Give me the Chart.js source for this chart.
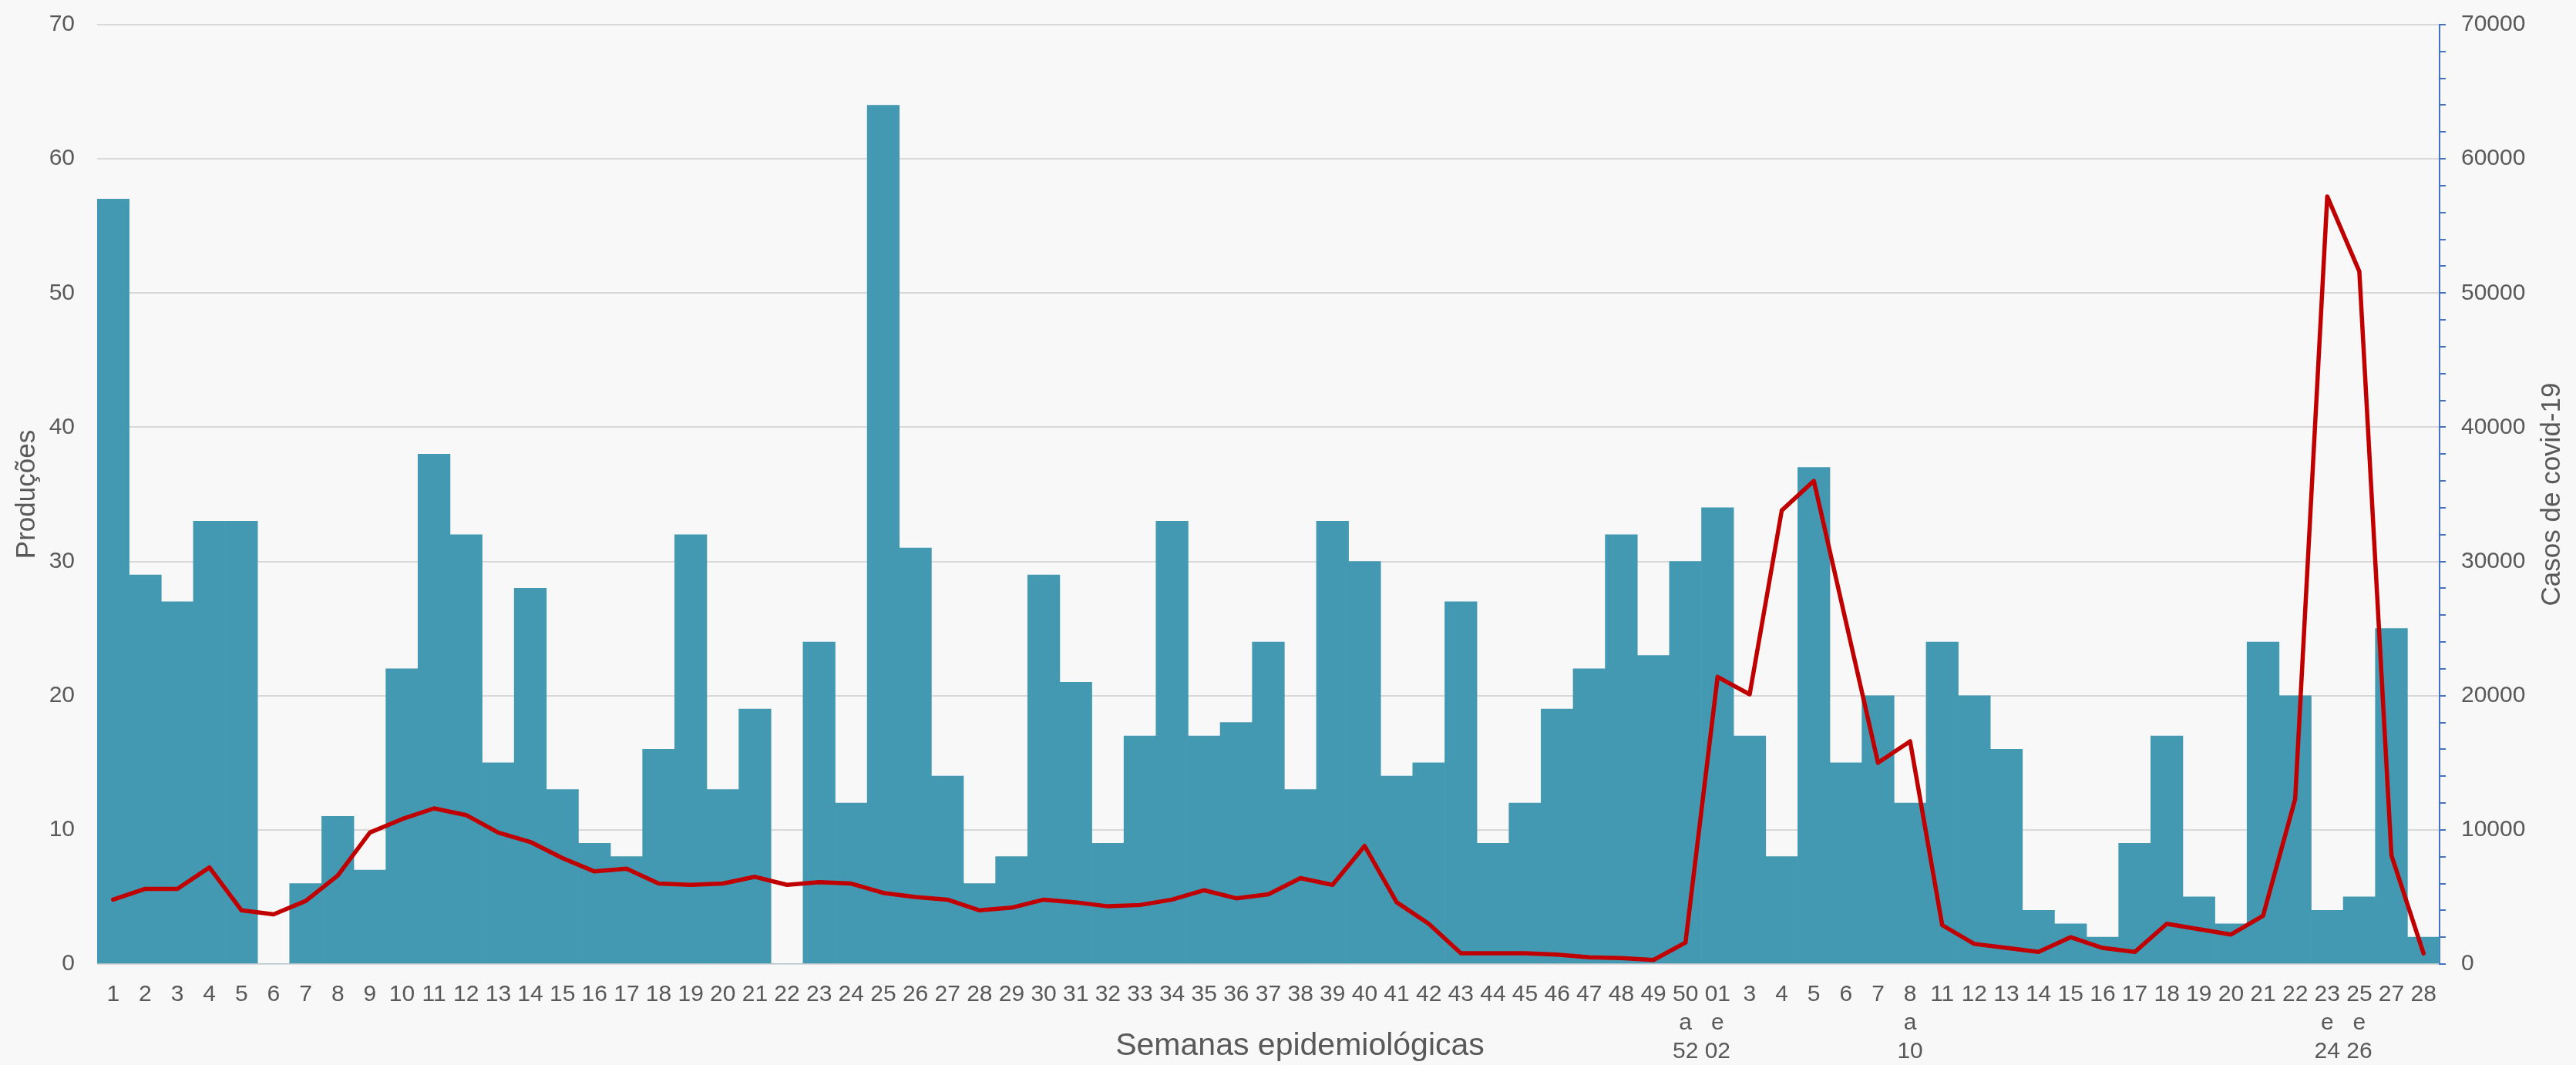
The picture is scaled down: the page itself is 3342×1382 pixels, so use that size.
<!DOCTYPE html>
<html>
<head>
<meta charset="utf-8">
<script src="https://cdn.jsdelivr.net/npm/chart.js@4.4.0/dist/chart.umd.min.js"></script>
<style>
  html, body { margin: 0; padding: 0; background: #F8F8F8; }
  #wrap { width: 3342px; height: 1382px; }
</style>
</head>
<body>
<div id="wrap"><canvas id="c" width="3342" height="1382"></canvas></div>
<script>
const semanas = [
  "1","2","3","4","5","6","7","8","9","10",
  "11","12","13","14","15","16","17","18","19","20",
  "21","22","23","24","25","26","27","28","29","30",
  "31","32","33","34","35","36","37","38","39","40",
  "41","42","43","44","45","46","47","48","49",["50","a","52"],
  ["01","e","02"],"3","4","5","6","7",["8","a","10"],"11","12","13",
  "14","15","16","17","18","19","20","21","22",["23","e","24"],
  ["25","e","26"],"27","28"
];
const producoes = [
  57,29,27,33,33,0,6,11,7,22,
  38,32,15,28,13,9,8,16,32,13,
  19,0,24,12,64,31,14,6,8,29,
  21,9,17,33,17,18,24,13,33,30,
  14,15,27,9,12,19,22,32,23,30,
  34,17,8,37,15,20,12,24,20,16,
  4,3,2,9,17,5,3,24,20,4,
  5,25,2
];
const casos = [
  4800,5600,5600,7200,4000,3700,4700,6600,9800,10800,
  11600,11100,9800,9100,7900,6900,7100,6000,5900,6000,
  6500,5900,6100,6000,5300,5000,4800,4000,4200,4800,
  4600,4300,4400,4800,5500,4900,5200,6400,5900,8800,
  4600,3000,800,800,800,700,500,450,300,1600,
  21400,20100,33800,36000,25500,15000,16600,2900,1500,1200,
  900,2000,1200,900,3000,2600,2200,3600,12300,57200,
  51600,8100,800
];
const tituloX = "Semanas epidemiológicas";
const tituloY = "Produções";
const tituloY1 = "Casos de covid-19";

const TEXT = "#595959";
const FONT = "'Liberation Sans', Arial, sans-serif";

const bgPlugin = {
  id: 'bg',
  beforeDraw(chart) {
    const ctx = chart.ctx;
    ctx.save();
    ctx.fillStyle = '#F8F8F8';
    ctx.fillRect(0, 0, chart.width, chart.height);
    ctx.restore();
  }
};
const titlesPlugin = {
  id: 'titles',
  afterDraw(chart) {
    const ctx = chart.ctx;
    const a = chart.chartArea;
    ctx.save();
    ctx.fillStyle = TEXT;
    ctx.textAlign = 'center';
    ctx.textBaseline = 'middle';
    ctx.font = "41px " + FONT;
    ctx.fillText(tituloX, a.left + (a.right - a.left) * 0.5135, 1358);
    ctx.translate(3311, (a.top + a.bottom) / 2);
    ctx.rotate(-Math.PI / 2);
    ctx.font = "35px " + FONT;
    ctx.fillText(tituloY1, 0, 0);
    ctx.restore();
  }
};

new Chart(document.getElementById('c'), {
  type: 'bar',
  data: {
    labels: semanas,
    datasets: [
      {
        type: 'line',
        label: 'Casos de covid-19',
        data: casos,
        yAxisID: 'y1',
        borderColor: '#C00000',
        borderWidth: 5.5,
        pointRadius: 0,
        tension: 0,
        fill: false,
        borderCapStyle: 'round',
        borderJoinStyle: 'round',
        order: 0
      },
      {
        type: 'bar',
        label: 'Produções',
        data: producoes,
        yAxisID: 'y',
        backgroundColor: '#4399B1',
        borderWidth: 0,
        categoryPercentage: 1.0,
        barPercentage: 1.0,
        order: 1
      }
    ]
  },
  options: {
    responsive: false,
    animation: false,
    devicePixelRatio: 1,
    layout: { padding: { top: 32, left: 0, right: 0, bottom: 0 } },
    plugins: { legend: { display: false }, tooltip: { enabled: false } },
    scales: {
      x: {
        offset: true,
        grid: { display: false },
        border: { display: false },
        ticks: {
          autoSkip: false, maxRotation: 0, minRotation: 0,
          color: TEXT, padding: 13,
          font: { family: FONT, size: 30, lineHeight: 1.233 }
        },
        afterFit(scale) { scale.height = 131; scale.paddingLeft = 0; scale.paddingRight = 0; }
      },
      y: {
        position: 'left',
        min: 0, max: 70,
        ticks: { stepSize: 10, color: TEXT, padding: 29, font: { family: FONT, size: 30 } },
        grid: { color: '#D9D9D9', lineWidth: 2, drawTicks: false },
        border: { display: false },
        title: { display: true, text: tituloY, color: TEXT, font: { family: FONT, size: 35 }, padding: { top: 14, bottom: 0 } },
        afterFit(scale) { scale.width = 126; scale.paddingTop = 0; scale.paddingBottom = 0; }
      },
      y1: {
        position: 'right',
        min: 0, max: 70000,
        ticks: {
          stepSize: 2000, autoSkip: false, color: TEXT, padding: 20,
          font: { family: FONT, size: 30 },
          callback: (v) => (v % 10000 === 0 ? String(v) : '')
        },
        grid: { drawOnChartArea: false, drawTicks: true, tickLength: 8, color: '#4472C4', lineWidth: 2 },
        border: { display: true, color: '#4472C4', width: 2 },
        afterFit(scale) { scale.width = 177; scale.paddingTop = 0; scale.paddingBottom = 0; }
      }
    }
  },
  plugins: [bgPlugin, titlesPlugin]
});
</script>
</body>
</html>
